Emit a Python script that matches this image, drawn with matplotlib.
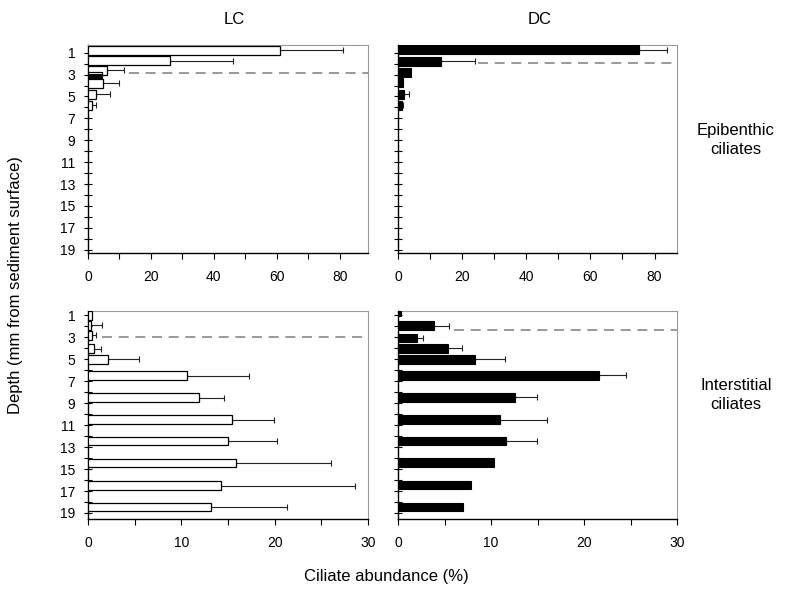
import numpy as np
import matplotlib
matplotlib.use("Agg")
import matplotlib.pyplot as plt
from matplotlib.ticker import MultipleLocator, FixedLocator

plt.rcParams['font.family'] = ['Liberation Sans', 'DejaVu Sans']

# epibenthic ciliates (top row), depth in mm, abundance in %
top_lc_depth = [0.77, 1.73, 2.6, 3.2, 3.8, 4.8, 5.8]
top_lc_val = [61, 26, 6.0, 4.5, 4.7, 2.6, 1.3]
top_lc_err = [81, 46, 11.6, np.nan, 9.8, 7.1, 2.4]

top_dc_depth = [0.73, 1.8, 2.8, 3.7, 4.8, 5.8]
top_dc_val = [75.3, 13.5, 4.2, 1.6, 1.9, 1.1]
top_dc_err = [83.9, 24, np.nan, np.nan, 3.5, 1.6]

# interstitial ciliates (bottom row)
bot_lc_depth = [1.0, 1.9, 2.8, 4.05, 5.0, 6.5, 8.5, 10.5, 12.45, 14.45, 16.5, 18.45]
bot_lc_val = [0.4, 0.3, 0.4, 0.6, 2.1, 10.6, 11.9, 15.4, 15.0, 15.9, 14.3, 13.2]
bot_lc_err = [np.nan, 1.5, 0.9, 1.4, 5.5, 17.3, 14.6, 19.9, 20.3, 26.0, 28.6, 21.3]

bot_dc_depth = [0.7, 1.95, 3.05, 4.0, 5.0, 6.45, 8.45, 10.5, 12.45, 14.4, 16.45, 18.45]
bot_dc_val = [0.3, 3.9, 2.05, 5.35, 8.3, 21.6, 12.6, 11.0, 11.6, 10.3, 7.8, 7.0]
bot_dc_err = [np.nan, 5.5, 2.7, 6.9, 11.5, 24.5, 14.9, 16.0, 14.9, np.nan, np.nan, np.nan]

# dashed line: depth and x start
top_lc_line = (2.85, 13)
top_dc_line = (1.9, 25)
bot_lc_line = (3.0, 1.5)
bot_dc_line = (2.35, 6)

depth_ticks = list(range(1, 20))

W, H = 801, 590
fig = plt.figure(figsize=(W / 100, H / 100), dpi=100)


def box(l, t, r, b):
    return [l / W, 1 - b / H, (r - l) / W, (b - t) / H]


ax_tl = fig.add_axes(box(88, 45, 368, 253))
ax_tr = fig.add_axes(box(398, 45, 677, 253))
ax_bl = fig.add_axes(box(88, 311, 368, 519))
ax_br = fig.add_axes(box(398, 311, 677, 519))


def panel(ax, depth, val, err, line, dark, xmax, major, minor, ylim):
    depth = np.array(depth)
    val = np.array(val)
    err = np.array(err)
    if dark:
        ax.barh(depth, val, height=0.8, color='black', edgecolor='black',
                linewidth=0.8, zorder=3)
    else:
        ax.barh(depth, val, height=0.8, color='white', edgecolor='black',
                linewidth=0.9, zorder=3)
    m = ~np.isnan(err)
    ax.errorbar(val[m], depth[m], xerr=[np.zeros(m.sum()), err[m] - val[m]],
                fmt='none', ecolor='#222222', elinewidth=0.8, capsize=2,
                capthick=0.8, zorder=2)
    ax.hlines(line[0], line[1], xmax, colors='#888888', linestyles=(0, (6, 4)),
              linewidth=1.2, zorder=1)
    ax.set_xlim(0, xmax)
    ax.set_ylim(*ylim)
    ax.xaxis.set_major_locator(MultipleLocator(major))
    ax.xaxis.set_minor_locator(MultipleLocator(minor))
    ax.yaxis.set_major_locator(FixedLocator(depth_ticks))
    if dark:
        ax.set_yticklabels([''] * len(depth_ticks))
    else:
        ax.set_yticklabels([str(d) if d % 2 else '' for d in depth_ticks])
    ax.tick_params(axis='y', direction='inout', length=6, width=0.8, labelsize=10, pad=6)
    ax.tick_params(axis='x', which='major', direction='out', length=4, width=0.8,
                   labelsize=10, pad=8)
    ax.tick_params(axis='x', which='minor', direction='out', length=4, width=0.8)
    for s in ['top', 'right']:
        ax.spines[s].set_color('#999999')
        ax.spines[s].set_linewidth(0.8)
    for s in ['left', 'bottom']:
        ax.spines[s].set_color('black')
        ax.spines[s].set_linewidth(1.0)


panel(ax_tl, top_lc_depth, top_lc_val, top_lc_err, top_lc_line, False, 89, 20, 10, (19.3, 0.3))
# small dark bar in the LC epibenthic column
ax_tl.barh(top_lc_depth[3], top_lc_val[3], height=0.45, color='black', zorder=4)
panel(ax_tr, top_dc_depth, top_dc_val, top_dc_err, top_dc_line, True, 87, 20, 10, (19.3, 0.3))
panel(ax_bl, bot_lc_depth, bot_lc_val, bot_lc_err, bot_lc_line, False, 30, 10, 5, (19.55, 0.6))
panel(ax_br, bot_dc_depth, bot_dc_val, bot_dc_err, bot_dc_line, True, 30, 10, 5, (19.55, 0.6))

fig.text(234 / W, 1 - 20 / H, 'LC', ha='center', va='center', fontsize=12)
fig.text(540 / W, 1 - 20 / H, 'DC', ha='center', va='center', fontsize=12)
fig.text(736 / W, 1 - 140 / H, 'Epibenthic\nciliates', ha='center', va='center',
         fontsize=12, linespacing=1.3)
fig.text(736 / W, 1 - 395 / H, 'Interstitial\nciliates', ha='center', va='center',
         fontsize=12, linespacing=1.3)
fig.text(16 / W, 1 - 285 / H, 'Depth (mm from sediment surface)', ha='center',
         va='center', rotation=90, fontsize=12)
fig.text(386 / W, 1 - 577 / H, 'Ciliate abundance (%)', ha='center', va='center',
         fontsize=12)

fig.savefig('out.png', dpi=100)
